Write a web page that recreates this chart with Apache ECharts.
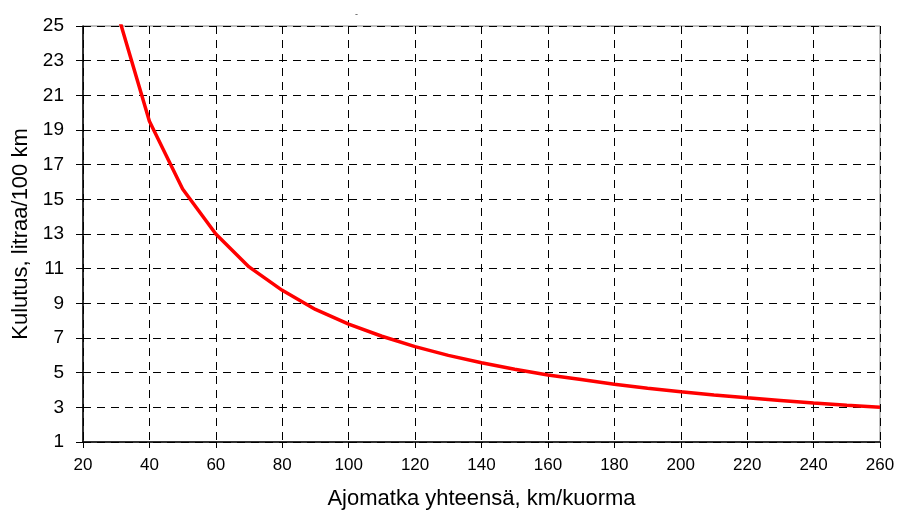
<!DOCTYPE html>
<html><head><meta charset="utf-8">
<script src="https://cdn.jsdelivr.net/npm/echarts@6/dist/echarts.min.js"></script>
<style>html,body{margin:0;padding:0;background:#fff}#c{width:897px;height:511px}</style>
</head><body><div id="c"></div>
<script>
const distances = [30, 40, 50, 60, 70, 80, 90, 100, 110, 120, 130, 140, 150, 160, 170, 180, 190, 200, 210, 220, 230, 240, 250, 260];
const consumption = [26.0, 19.5, 15.6, 13.0, 11.1, 9.75, 8.65, 7.8, 7.1, 6.5, 6.0, 5.57, 5.2, 4.87, 4.6, 4.33, 4.1, 3.9, 3.71, 3.55, 3.4, 3.25, 3.12, 3.0];
const xTicks = [20, 40, 60, 80, 100, 120, 140, 160, 180, 200, 220, 240, 260];
const yTicks = [1, 3, 5, 7, 9, 11, 13, 15, 17, 19, 21, 23, 25];
const xName = 'Ajomatka yhteensä, km/kuorma';
const yName = 'Kulutus, litraa/100 km';

const chart = echarts.init(document.getElementById('c'));
const font = 'Liberation Sans, Arial, sans-serif';
chart.setOption({
  animation: false,
  backgroundColor: '#fff',
  title: { text: '-', left: 350, top: 5, textStyle: { fontSize: 9, fontWeight: 'normal', color: '#444', fontFamily: font } },
  grid: { left: 83, right: 17, top: 26, bottom: 69, containLabel: false, outerBoundsMode: 'none', show: true, borderColor: '#808080', borderWidth: 1 },
  xAxis: {
    type: 'value', min: xTicks[0], max: xTicks[xTicks.length - 1], interval: 20,
    name: xName, nameLocation: 'middle', nameGap: 46,
    nameTextStyle: { fontSize: 22, color: '#000', fontFamily: font },
    axisLine: { lineStyle: { color: '#000', width: 1.5 } },
    axisTick: { show: true, length: 6, lineStyle: { color: '#000' } },
    axisLabel: { fontSize: 17, color: '#000', fontFamily: font, margin: 15 },
    splitLine: { show: true, lineStyle: { color: '#000', type: [8, 6], width: 1 } }
  },
  yAxis: {
    type: 'value', min: yTicks[0], max: yTicks[yTicks.length - 1], interval: 2,
    name: yName, nameLocation: 'middle', nameGap: 50, nameRotate: 90,
    nameTextStyle: { fontSize: 22, color: '#000', fontFamily: font },
    axisLine: { show: true, lineStyle: { color: '#000', width: 1.5 } },
    axisTick: { show: true, length: 7, lineStyle: { color: '#000' } },
    axisLabel: { fontSize: 19, color: '#000', fontFamily: font, margin: 19 },
    splitLine: { show: true, lineStyle: { color: '#000', type: [8, 6], width: 1 } }
  },
  series: [{
    type: 'line', data: distances.map((d, i) => [d, consumption[i]]),
    showSymbol: false, clip: true,
    lineStyle: { color: '#ff0000', width: 3.5 }
  }]
});
</script></body></html>
